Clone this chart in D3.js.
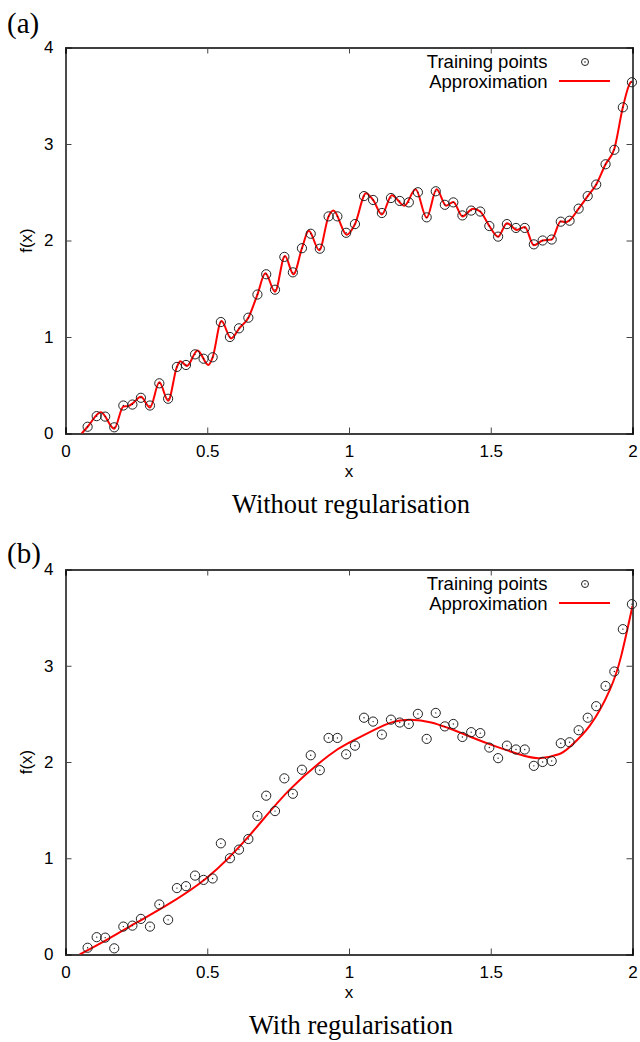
<!DOCTYPE html>
<html><head><meta charset="utf-8">
<script src="https://cdn.jsdelivr.net/npm/d3@7"></script>
<style>body{margin:0;background:#fff}svg{display:block}</style>
</head><body>
<script>
// Training points (same in both panels)
const pointX = [0.078,0.110,0.140,0.172,0.204,0.236,0.266,0.298,0.331,0.362,0.393,0.425,0.457,0.487,0.519,0.548,0.580,0.612,0.645,0.677,0.708,0.739,0.772,0.802,0.834,0.865,0.897,0.928,0.959,0.990,1.021,1.053,1.085,1.116,1.148,1.179,1.211,1.243,1.274,1.306,1.338,1.368,1.400,1.431,1.463,1.495,1.526,1.557,1.589,1.620,1.652,1.683,1.715,1.747,1.778,1.810,1.842,1.872,1.905,1.936,1.966,1.998];
const pointY = [0.07,0.18,0.175,0.064,0.29,0.30,0.37,0.29,0.52,0.36,0.69,0.71,0.82,0.775,0.79,1.155,1.0,1.09,1.2,1.44,1.65,1.49,1.83,1.67,1.92,2.07,1.915,2.25,2.25,2.08,2.17,2.46,2.42,2.285,2.44,2.41,2.395,2.5,2.24,2.51,2.37,2.395,2.26,2.31,2.3,2.15,2.04,2.17,2.13,2.13,1.96,2.0,2.01,2.195,2.205,2.33,2.46,2.58,2.79,2.94,3.38,3.64];

// Approximation without regularisation (samples: extremes and intermediate points)
const approxAX = [0.057,0.078,0.125,0.172,0.204,0.222,0.236,0.266,0.298,0.331,0.362,0.393,0.405,0.428,0.466,0.504,0.519,0.550,0.584,0.613,0.645,0.677,0.705,0.739,0.774,0.804,0.834,0.858,0.895,0.928,0.945,0.992,1.021,1.060,1.085,1.116,1.151,1.195,1.235,1.274,1.309,1.343,1.368,1.400,1.438,1.463,1.495,1.526,1.557,1.592,1.620,1.652,1.683,1.715,1.747,1.765,1.778,1.810,1.842,1.872,1.905,1.936,1.966,1.991,1.998];
const approxAY = [0.0,0.07,0.22,0.05,0.28,0.285,0.31,0.38,0.27,0.53,0.34,0.69,0.75,0.70,0.86,0.71,0.79,1.165,0.985,1.09,1.2,1.44,1.66,1.47,1.84,1.65,1.92,2.1,1.9,2.25,2.31,2.06,2.17,2.49,2.42,2.27,2.47,2.36,2.53,2.235,2.53,2.36,2.40,2.25,2.33,2.30,2.15,2.04,2.18,2.11,2.14,1.95,2.0,2.01,2.2,2.19,2.21,2.33,2.46,2.58,2.79,2.95,3.38,3.63,3.65];

// Approximation with regularisation
const approxBX = [0.05,0.15,0.25,0.35,0.5,0.65,0.79,0.93,1.0,1.1,1.18,1.29,1.43,1.52,1.6,1.67,1.74,1.78,1.85,1.92,1.96,2.0];
const approxBY = [0.0,0.16,0.33,0.5,0.8,1.24,1.71,2.07,2.2,2.35,2.43,2.41,2.26,2.16,2.08,2.04,2.08,2.16,2.38,2.75,3.1,3.62];

const xTicks = [0,0.5,1,1.5,2];
const yTicks = [0,1,2,3,4];
const panelLabels = ["(a)","(b)"];
const captions = ["Without regularisation","With regularisation"];
const legendLabels = ["Training points","Approximation"];

const W = 640, H = 1042;
const svg = d3.select("body").append("svg").attr("width",W).attr("height",H);

const panels = [
  {top:47.5, bottom:433.5, labelY:33, cx:approxAX, cy:approxAY, curve:d3.curveMonotoneX},
  {top:569.5, bottom:954.5, labelY:563, cx:approxBX, cy:approxBY, curve:d3.curveNatural}
];
const left = 65.5, right = 632.5;
const sans = "'Liberation Sans', Arial, Helvetica, sans-serif";
const serif = "'Liberation Serif', 'Times New Roman', serif";

panels.forEach((p,pi)=>{
  const x = d3.scaleLinear().domain([0,2]).range([left,right]);
  const y = d3.scaleLinear().domain([0,4]).range([p.bottom,p.top]);
  const g = svg.append("g");
  const clipId = "clip"+pi;
  svg.append("clipPath").attr("id",clipId).append("rect")
    .attr("x",left).attr("y",p.top).attr("width",right-left).attr("height",p.bottom-p.top);

  // axes with inward ticks
  const axB = d3.axisBottom(x).tickValues(xTicks).tickSize(-6).tickPadding(11).tickFormat(d3.format("~g"));
  const axT = d3.axisTop(x).tickValues(xTicks).tickSize(-6).tickFormat("");
  const axL = d3.axisLeft(y).tickValues(yTicks).tickSize(-6).tickPadding(12).tickFormat(d3.format("~g"));
  const axR = d3.axisRight(y).tickValues(yTicks).tickSize(-6).tickFormat("");
  [[axB,`translate(0,${p.bottom})`],[axT,`translate(0,${p.top})`],[axL,`translate(${left},0)`],[axR,`translate(${right},0)`]]
    .forEach(([a,t])=>{
      const ag = g.append("g").attr("transform",t).call(a);
      ag.select(".domain").attr("stroke","#000").attr("stroke-width",1.4);
      ag.selectAll(".tick line").attr("stroke","#444").attr("stroke-width",1);
      ag.selectAll("text").attr("font-family",sans).attr("font-size",17).attr("fill","#000");
    });

  // axis titles
  g.append("text").attr("x",(left+right)/2).attr("y",p.bottom+43.5).attr("text-anchor","middle")
    .attr("font-family",sans).attr("font-size",17).text("x");
  g.append("text").attr("transform",`translate(32,${(p.top+p.bottom)/2}) rotate(-90)`)
    .attr("text-anchor","middle").attr("font-family",sans).attr("font-size",17).text("f(x)");
  g.append("text").attr("x",(left+right)/2+2).attr("y",p.bottom+79).attr("text-anchor","middle")
    .attr("font-family",serif).attr("font-size",26.5).text(captions[pi]);
  g.append("text").attr("x",7).attr("y",p.labelY).attr("font-family",serif).attr("font-size",29).text(panelLabels[pi]);

  // curve
  const cdata = p.cx.map((d,i)=>[d,p.cy[i]]);
  const line = d3.line().x(d=>x(d[0])).y(d=>y(d[1])).curve(p.curve);
  g.append("path").datum(cdata).attr("clip-path",`url(#${clipId})`).attr("d",line)
    .attr("fill","none").attr("stroke","#ff0000").attr("stroke-width",2).attr("stroke-linejoin","round");

  // points
  const pts = pointX.map((d,i)=>[d,pointY[i]]);
  const pg = g.append("g").selectAll("g").data(pts).join("g").attr("transform",d=>`translate(${x(d[0])},${y(d[1])})`);
  pg.append("circle").attr("r",4.6).attr("fill","none").attr("stroke","#222").attr("stroke-width",1);
  pg.append("circle").attr("r",0.7).attr("fill","#222");

  // legend
  const ly1 = p.top+19, ly2 = p.top+39;
  g.append("text").attr("x",547.5).attr("y",ly1+1).attr("text-anchor","end").attr("font-family",sans).attr("font-size",18.5).text(legendLabels[0]);
  g.append("text").attr("x",547.5).attr("y",ly2+1).attr("text-anchor","end").attr("font-family",sans).attr("font-size",18.5).text(legendLabels[1]);
  g.append("circle").attr("cx",585).attr("cy",ly1-4.5).attr("r",3.5).attr("fill","none").attr("stroke","#222").attr("stroke-width",1);
  g.append("circle").attr("cx",585).attr("cy",ly1-4.5).attr("r",0.8).attr("fill","#222");
  g.append("line").attr("x1",559).attr("x2",610).attr("y1",ly2-5.5).attr("y2",ly2-5.5).attr("stroke","#ff0000").attr("stroke-width",2);
});
</script>
</body></html>
